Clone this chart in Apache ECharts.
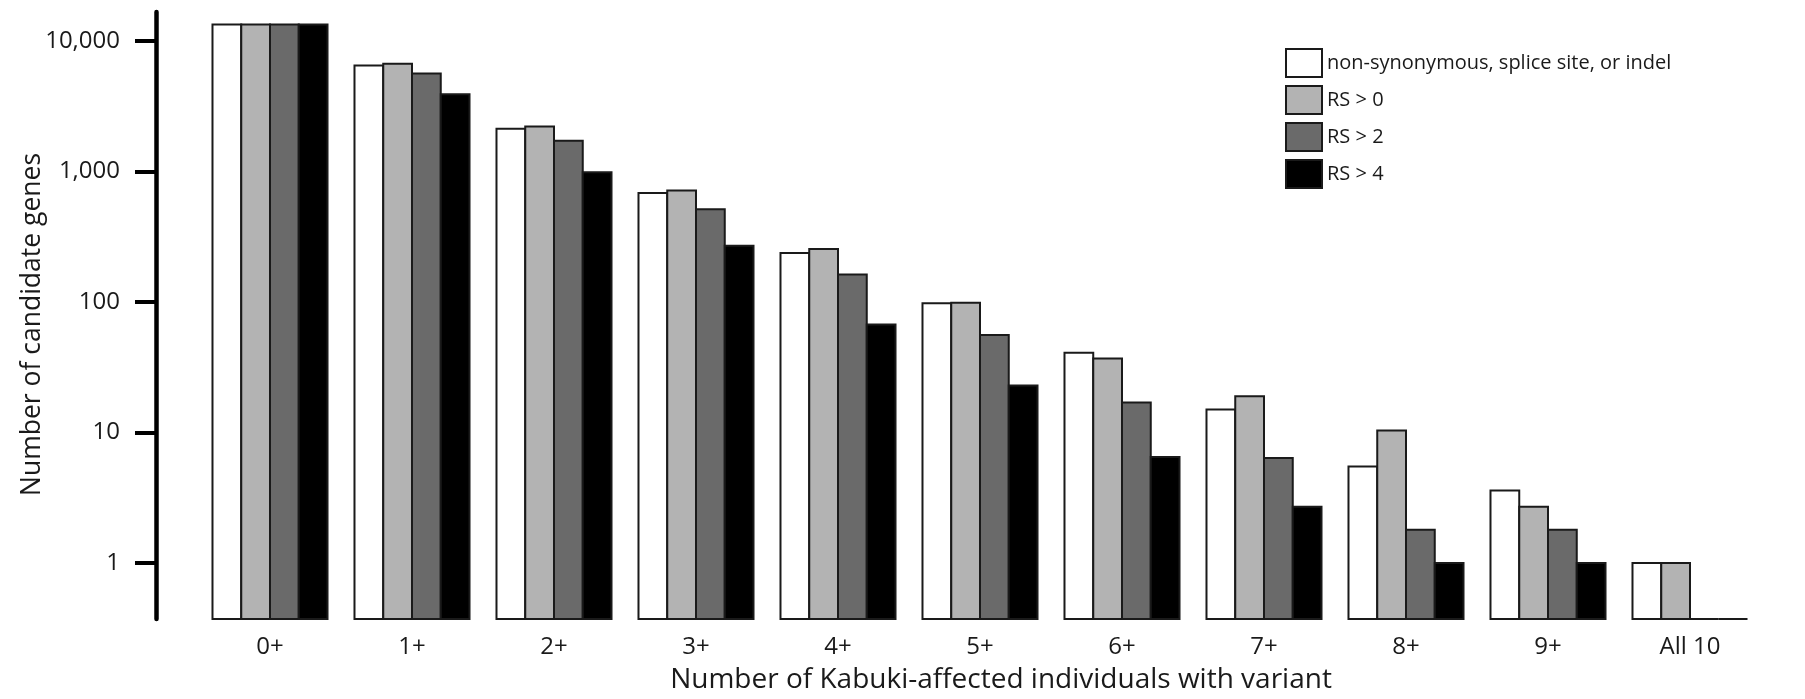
<!DOCTYPE html>
<html>
<head>
<meta charset="utf-8">
<script src="https://cdn.jsdelivr.net/npm/echarts@6/dist/echarts.min.js"></script>
<style>
  html, body { margin: 0; padding: 0; background: #fff; }
  #chart { width: 1805px; height: 699px; }
</style>
</head>
<body>
<div id="chart"></div>
<script>
// ---- data ----
const categories = ['0+', '1+', '2+', '3+', '4+', '5+', '6+', '7+', '8+', '9+', 'All 10'];
const seriesNames = ['non-synonymous, splice site, or indel', 'RS > 0', 'RS > 2', 'RS > 4'];
const nonSynonymous = [13400, 6500, 2130, 685, 238, 98, 41, 15, 5.5, 3.6, 1];
const rsAbove0 = [13400, 6700, 2220, 718, 255, 99, 37, 19, 10.4, 2.7, 1];
const rsAbove2 = [13400, 5650, 1720, 515, 163, 56, 17, 6.4, 1.8, 1.8, 0];
const rsAbove4 = [13400, 3910, 990, 270, 67.5, 23, 6.5, 2.7, 1, 1, 0];
const yTickValues = [1, 10, 100, 1000, 10000];

// ---- chart ----
const Y_MIN = 0.373;
const Y_MAX = 16710;
const FONT = 'Open Sans';
const colors = ['#ffffff', '#b3b3b3', '#6a6a6a', '#000000'];
const allSeries = [nonSynonymous, rsAbove0, rsAbove2, rsAbove4];
const GROUP_FRACTION = 0.81;   // share of the category band covered by the 4 bars
const N_BARS = allSeries.length;

const chart = echarts.init(document.getElementById('chart'), null, { renderer: 'canvas' });

function makeRenderItem(seriesIndex) {
  return function (params, api) {
    const cat = api.value(0);
    const val = api.value(1);
    const base = api.coord([cat, Y_MIN]);
    const top = api.coord([cat, val]);
    const band = api.size([1, 0])[0];
    const groupW = band * GROUP_FRACTION;
    const barW = groupW / N_BARS;
    const x0 = base[0] - groupW / 2 + seriesIndex * barW;
    return {
      type: 'rect',
      shape: { x: x0, y: top[1], width: barW, height: base[1] - top[1] },
      style: { fill: colors[seriesIndex], stroke: '#1a1a1a', lineWidth: 2 }
    };
  };
}

chart.setOption({
  animation: false,
  backgroundColor: '#ffffff',
  textStyle: { fontFamily: FONT, color: '#1a1a1a' },
  grid: { left: 199, right: 44, top: 12, bottom: 80, outerBoundsMode: 'none' },
  legend: {
    orient: 'vertical',
    left: 1285,
    top: 48,
    padding: 0,
    itemWidth: 36,
    itemHeight: 28,
    itemGap: 7,
    icon: 'rect',
    data: seriesNames,
    textStyle: { fontFamily: FONT, fontSize: 20, color: '#1a1a1a' },
    itemStyle: { borderColor: '#1a1a1a', borderWidth: 2 }
  },
  xAxis: {
    type: 'category',
    data: categories,
    axisLine: { show: false },
    axisTick: { show: false },
    axisLabel: { fontFamily: FONT, fontSize: 24, color: '#1a1a1a', margin: 16 },
    name: 'Number of Kabuki-affected individuals with variant',
    nameLocation: 'middle',
    nameGap: 47,
    nameMoveOverlap: false,
    nameTextStyle: { fontFamily: FONT, fontSize: 28, color: '#1a1a1a', padding: [0, 0, 0, 42] }
  },
  yAxis: {
    type: 'log',
    logBase: 10,
    min: Y_MIN,
    max: Y_MAX,
    offset: 43,
    splitLine: { show: false },
    axisLine: { show: true, lineStyle: { color: '#000', width: 4.5 } },
    axisTick: { show: true, length: 21, customValues: yTickValues, lineStyle: { color: '#000', width: 4 } },
    axisLabel: {
      customValues: yTickValues,
      fontFamily: FONT, fontSize: 24, color: '#1a1a1a', margin: 36,
      formatter: v => Math.round(v).toLocaleString('en-US')
    },
    name: 'Number of candidate genes',
    nameLocation: 'middle',
    nameGap: 110,
    nameRotate: 90,
    nameMoveOverlap: false,
    nameTextStyle: { fontFamily: FONT, fontSize: 26.5, color: '#1a1a1a', padding: [0, 18, 0, 0] }
  },
  series: allSeries.map((vals, i) => ({
    name: seriesNames[i],
    type: 'custom',
    renderItem: makeRenderItem(i),
    encode: { x: 0, y: 1 },
    data: vals.map((v, j) => [j, v === 0 ? Y_MIN : v]),
    itemStyle: { color: colors[i], borderColor: '#1a1a1a', borderWidth: 2 }
  }))
});
</script>
</body>
</html>
